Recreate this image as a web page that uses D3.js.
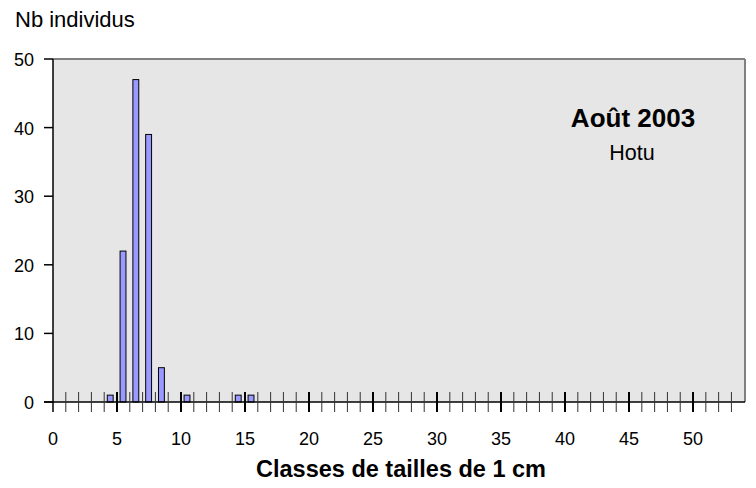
<!DOCTYPE html>
<html><head><meta charset="utf-8">
<script src="https://cdn.jsdelivr.net/npm/d3@7"></script>
<style>body{margin:0;background:#fff;} svg{display:block;font-family:"Liberation Sans",Arial,sans-serif;}</style>
</head><body>
<svg id="c" width="756" height="488"></svg>
<script>
const classes = [4, 5, 6, 7, 8, 10, 14, 15];
const counts  = [1, 22, 47, 39, 5, 1, 1, 1];
const yTicks = [0, 10, 20, 30, 40, 50];
const xLabels = [0, 5, 10, 15, 20, 25, 30, 35, 40, 45, 50];
const title = "Août 2003";
const subtitle = "Hotu";
const yTitle = "Nb individus";
const xTitle = "Classes de tailles de 1 cm";

const svg = d3.select("#c");
const L = 53, R = 745, T = 59, B = 402;
const x = d3.scaleLinear().domain([0, 54.06]).range([L, R]);
const y = d3.scaleLinear().domain([0, 50]).range([B, T]);

svg.append("rect").attr("x", L).attr("y", T).attr("width", R - L).attr("height", B - T).attr("fill", "#e6e6e6");
svg.append("line").attr("x1", L).attr("x2", R).attr("y1", T).attr("y2", T).attr("stroke", "#808080").attr("stroke-width", 2);
svg.append("line").attr("x1", R).attr("x2", R).attr("y1", T).attr("y2", B).attr("stroke", "#808080").attr("stroke-width", 2);

svg.selectAll("rect.bar").data(classes).enter().append("rect").attr("class", "bar")
  .attr("x", (d) => x(d + 0.24)).attr("width", x(0.46) - x(0))
  .attr("y", (d, i) => y(counts[i])).attr("height", (d, i) => B - y(counts[i]))
  .attr("fill", "#9999ff").attr("stroke", "#000").attr("stroke-width", 1);

svg.append("line").attr("x1", L).attr("x2", L).attr("y1", T).attr("y2", B + 10).attr("stroke", "#000").attr("stroke-width", 1.5);
svg.selectAll("line.yt").data(yTicks).enter().append("line")
  .attr("x1", L - 9).attr("x2", L).attr("y1", (d) => y(d)).attr("y2", (d) => y(d)).attr("stroke", "#000").attr("stroke-width", 1.5);
svg.selectAll("text.yl").data(yTicks).enter().append("text")
  .attr("x", 34).attr("y", (d) => y(d) + 7).attr("text-anchor", "end").attr("font-size", 18).text((d) => d);

svg.append("line").attr("x1", L - 9).attr("x2", R).attr("y1", B).attr("y2", B).attr("stroke", "#000").attr("stroke-width", 1.5);
const minor = d3.range(1, 54);
svg.selectAll("line.xm").data(minor).enter().append("line")
  .attr("x1", (d) => x(d)).attr("x2", (d) => x(d)).attr("y1", 392).attr("y2", 412)
  .attr("stroke", (d) => d % 5 === 0 ? "#000" : "#333").attr("stroke-width", (d) => d % 5 === 0 ? 2 : 1);
svg.selectAll("text.xl").data(xLabels).enter().append("text")
  .attr("x", (d) => x(d)).attr("y", 445).attr("text-anchor", "middle").attr("font-size", 18).text((d) => d);

svg.append("text").attr("x", 15).attr("y", 27).attr("font-size", 22).text(yTitle);
svg.append("text").attr("x", 401).attr("y", 477).attr("text-anchor", "middle").attr("font-size", 23.5).attr("font-weight", "bold").text(xTitle);
svg.append("text").attr("x", 633).attr("y", 127).attr("text-anchor", "middle").attr("font-size", 26).attr("font-weight", "bold").text(title);
svg.append("text").attr("x", 632).attr("y", 160).attr("text-anchor", "middle").attr("font-size", 21.5).text(subtitle);
</script>
</body></html>
